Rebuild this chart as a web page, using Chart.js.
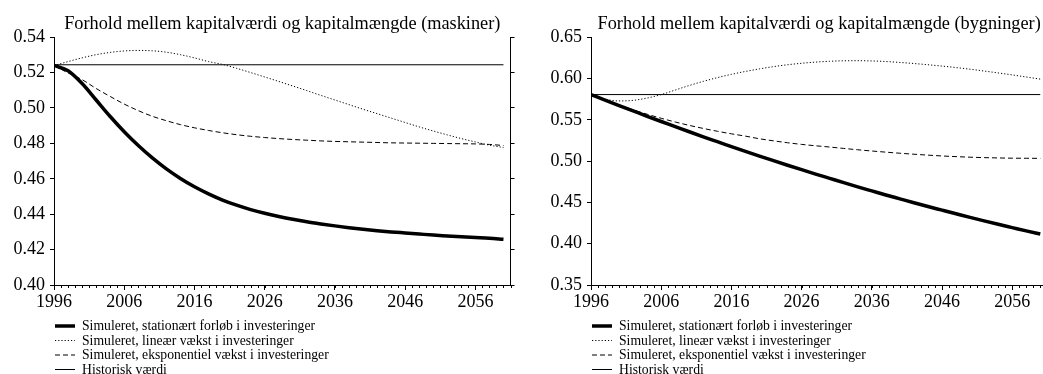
<!DOCTYPE html>
<html>
<head>
<meta charset="utf-8">
<script src="https://cdn.jsdelivr.net/npm/chart.js@4"></script>
<style>
  html, body { margin: 0; padding: 0; background: #fff; overflow: hidden; width: 1043px; height: 374px; }
  #wrap { position: relative; width: 1043px; height: 374px; overflow: hidden; }
  canvas { position: absolute; top: 0; }
  #maskiner { left: 0; }
  #bygninger { left: 521px; }
</style>
</head>
<body>
<div id="wrap">
  <canvas id="maskiner" width="521" height="374"></canvas>
  <canvas id="bygninger" width="540" height="374"></canvas>
</div>
<script>
// Years of the simulation (every second year)
const years = [1996, 1998, 2000, 2002, 2004, 2006, 2008, 2010, 2012, 2014, 2016,
               2018, 2020, 2022, 2024, 2026, 2028, 2030, 2032, 2034, 2036, 2038,
               2040, 2042, 2044, 2046, 2048, 2050, 2052, 2054, 2056, 2058, 2060];
const historyYears = [1996, 2060];
const xTickYears = [1996, 2006, 2016, 2026, 2036, 2046, 2056];

const seriesNames = [
  'Simuleret, stationært forløb i investeringer',
  'Simuleret, lineær vækst i investeringer',
  'Simuleret, eksponentiel vækst i investeringer',
  'Historisk værdi'
];

// Machinery: ratio between capital value and capital stock
const masStationaer = [0.5240, 0.5210, 0.5138, 0.5045, 0.4952, 0.4866, 0.4788, 0.4718, 0.4656, 0.4602, 0.4555,
                       0.4515, 0.4480, 0.4451, 0.4426, 0.4405, 0.4387, 0.4371, 0.4357, 0.4345, 0.4334, 0.4324,
                       0.4315, 0.4307, 0.4300, 0.4294, 0.4288, 0.4282, 0.4277, 0.4272, 0.4268, 0.4264, 0.4258];
const masLineaer    = [0.5240, 0.5262, 0.5283, 0.5301, 0.5314, 0.5322, 0.5325, 0.5323, 0.5315, 0.5301, 0.5283,
                       0.5262, 0.5246, 0.5224, 0.5200, 0.5175, 0.5150, 0.5124, 0.5098, 0.5071, 0.5045, 0.5019,
                       0.4993, 0.4968, 0.4943, 0.4918, 0.4893, 0.4870, 0.4848, 0.4827, 0.4808, 0.4790, 0.4777];
const masEksponentiel = [0.5240, 0.5198, 0.5160, 0.5110, 0.5065, 0.5022, 0.4985, 0.4953, 0.4928, 0.4906, 0.4888,
                       0.4873, 0.4860, 0.4849, 0.4840, 0.4833, 0.4827, 0.4822, 0.4818, 0.4814, 0.4811, 0.4809,
                       0.4807, 0.4805, 0.4803, 0.4802, 0.4801, 0.4800, 0.4799, 0.4798, 0.4797, 0.4794, 0.4788];
const masHistorisk  = [0.5244, 0.5244];
const masYTicks = [0.40, 0.42, 0.44, 0.46, 0.48, 0.50, 0.52, 0.54];

// Buildings: ratio between capital value and capital stock
const bygStationaer = [0.5805, 0.5738, 0.5672, 0.5607, 0.5542, 0.5479, 0.5417, 0.5355, 0.5294, 0.5235, 0.5176,
                       0.5118, 0.5061, 0.5005, 0.4950, 0.4896, 0.4843, 0.4791, 0.4739, 0.4688, 0.4639, 0.4590,
                       0.4543, 0.4496, 0.4450, 0.4406, 0.4362, 0.4318, 0.4276, 0.4235, 0.4195, 0.4155, 0.4117];
const bygLineaer    = [0.5805, 0.5750, 0.5728, 0.5735, 0.5763, 0.5805, 0.5860, 0.5915, 0.5965, 0.6010, 0.6050,
                       0.6085, 0.6116, 0.6143, 0.6166, 0.6184, 0.6198, 0.6208, 0.6214, 0.6215, 0.6212, 0.6205,
                       0.6194, 0.6181, 0.6166, 0.6150, 0.6132, 0.6112, 0.6090, 0.6067, 0.6043, 0.6018, 0.5992];
const bygEksponentiel = [0.5805, 0.5740, 0.5678, 0.5620, 0.5567, 0.5518, 0.5473, 0.5432, 0.5395, 0.5361, 0.5330,
                       0.5302, 0.5270, 0.5245, 0.5222, 0.5202, 0.5185, 0.5170, 0.5153, 0.5137, 0.5122, 0.5108,
                       0.5095, 0.5083, 0.5072, 0.5062, 0.5054, 0.5047, 0.5042, 0.5038, 0.5035, 0.5034, 0.5033];
const bygHistorisk  = [0.5805, 0.5805];
const bygYTicks = [0.35, 0.40, 0.45, 0.50, 0.55, 0.60, 0.65];

const FONT = '"Liberation Serif", "Times New Roman", serif';
Chart.defaults.font.family = FONT;
Chart.defaults.color = '#000';

const toPoints = (xs, ys) => xs.map((x, i) => ({ x: x, y: ys[i] }));

// Short yearly tick marks below the x axis
const minorTicks = {
  id: 'minorTicks',
  afterDraw(chart) {
    const s = chart.scales.x;
    const ctx = chart.ctx;
    ctx.save();
    ctx.strokeStyle = '#000';
    ctx.lineWidth = 1;
    ctx.beginPath();
    for (let yr = s.min; yr <= s.max; yr++) {
      const px = Math.round(s.getPixelForValue(yr)) + 0.5;
      ctx.moveTo(px, s.top);
      ctx.lineTo(px, s.top + 3);
    }
    ctx.stroke();
    ctx.restore();
  }
};

// Legend listed in rows underneath the plot
const legendRows = {
  id: 'legendRows',
  afterDraw(chart) {
    const ctx = chart.ctx;
    const x0 = chart.chartArea.left + 1;
    const rowY = [326, 340.5, 355, 369.5];
    ctx.save();
    chart.data.datasets.forEach((ds, i) => {
      const y = rowY[i];
      ctx.beginPath();
      ctx.setLineDash(ds.borderDash || []);
      ctx.lineWidth = ds.borderWidth;
      ctx.strokeStyle = ds.borderColor;
      ctx.moveTo(x0, y);
      ctx.lineTo(x0 + 20, y);
      ctx.stroke();
      ctx.setLineDash([]);
      ctx.fillStyle = '#000';
      ctx.font = '13.7px ' + FONT;
      ctx.textBaseline = 'middle';
      ctx.textAlign = 'left';
      ctx.fillText(ds.label, x0 + 27, y + 0.5);
    });
    ctx.restore();
  }
};

function makeChart(id, cfg) {
  const datasets = [
    { label: seriesNames[0], data: toPoints(years, cfg.stationaer), borderColor: '#000', borderWidth: 3.5 },
    { label: seriesNames[1], data: toPoints(years, cfg.lineaer), borderColor: '#000', borderWidth: 1, borderDash: [1.2, 2] },
    { label: seriesNames[2], data: toPoints(years, cfg.eksponentiel), borderColor: '#000', borderWidth: 1, borderDash: [5, 3] },
    { label: seriesNames[3], data: toPoints(historyYears, cfg.historisk), borderColor: '#000', borderWidth: 1 }
  ];
  datasets.forEach(d => {
    d.pointRadius = 0;
    d.fill = false;
    d.cubicInterpolationMode = 'monotone';
  });

  const yAxis = (pos, width, showLabels) => ({
    type: 'linear',
    position: pos,
    min: cfg.yTicks[0],
    max: cfg.yTicks[cfg.yTicks.length - 1],
    afterBuildTicks: s => { s.ticks = cfg.yTicks.map(v => ({ value: v })); },
    afterFit: s => { s.width = width; },
    ticks: { display: showLabels, padding: 5, font: { size: 18 }, callback: v => Number(v).toFixed(2) },
    grid: { drawOnChartArea: false, tickLength: 4, color: '#000' },
    border: { display: true, color: '#000', width: 1 }
  });

  const scales = {
    x: {
      type: 'linear',
      min: 1996,
      max: 2061,
      afterBuildTicks: s => { s.ticks = xTickYears.map(v => ({ value: v })); },
      afterFit: s => { s.height = 28; },
      ticks: { autoSkip: false, maxRotation: 0, padding: 1, font: { size: 18 }, callback: v => String(v) },
      grid: { drawOnChartArea: false, tickLength: 5, color: '#000' },
      border: { display: true, color: '#000', width: 1 }
    },
    y: yAxis('left', cfg.leftWidth, true)
  };
  if (cfg.rightAxis) scales.y2 = yAxis('right', cfg.rightWidth, false);

  return new Chart(document.getElementById(id), {
    type: 'line',
    data: { datasets: datasets },
    options: {
      responsive: false,
      animation: false,
      devicePixelRatio: 1,
      layout: { padding: { top: 0, left: 0, right: cfg.rightPad, bottom: 61 } },
      scales: scales,
      plugins: {
        legend: { display: false },
        tooltip: { enabled: false },
        title: {
          display: true,
          text: cfg.title,
          fullSize: false,
          color: '#000',
          font: { size: 18.3, weight: 'normal' },
          padding: { top: 13, bottom: 2.2 }
        }
      }
    },
    plugins: [minorTicks, legendRows]
  });
}

makeChart('maskiner', {
  title: 'Forhold mellem kapitalværdi og kapitalmængde (maskiner)',
  stationaer: masStationaer, lineaer: masLineaer, eksponentiel: masEksponentiel, historisk: masHistorisk,
  yTicks: masYTicks, leftWidth: 54, rightAxis: true, rightWidth: 10.5, rightPad: 0
});

makeChart('bygninger', {
  title: 'Forhold mellem kapitalværdi og kapitalmængde (bygninger)',
  stationaer: bygStationaer, lineaer: bygLineaer, eksponentiel: bygEksponentiel, historisk: bygHistorisk,
  yTicks: bygYTicks, leftWidth: 70, rightAxis: false, rightWidth: 0, rightPad: 13.7
});
</script>
</body>
</html>
